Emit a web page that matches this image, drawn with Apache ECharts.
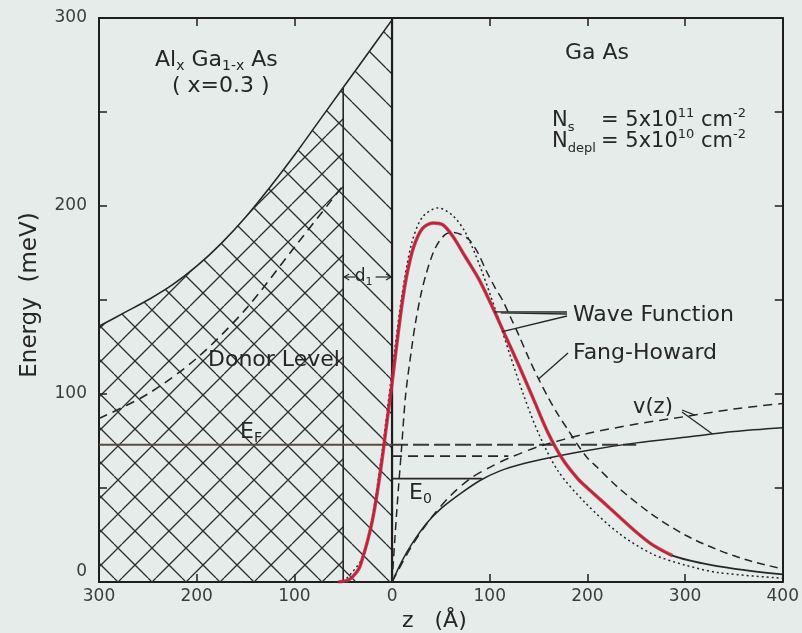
<!DOCTYPE html>
<html><head><meta charset="utf-8">
<script src="https://cdn.jsdelivr.net/npm/echarts@6/dist/echarts.min.js"></script>
<style>html,body{margin:0;padding:0;background:#e6ecea;overflow:hidden;}#c{width:802px;height:633px;}</style>
</head><body><div id="c"></div>
<script>
// ---------- data ----------
const zCB  = [-300,-275,-250,-225,-200,-175,-150,-125,-100,-75,-50,-25,0];
const eCB  = [136,143,150,158,168,180,194,210,227,245,263,281,299];
const zDonor = [-300,-250,-200,-150,-100,-50];
const eDonor = [87,100,119,145,178,211];
const spacerZ = -50, interfaceZ = 0, barrierTop = 300;
const eFermi = 73, zFermiStart = -300, zFermiEnd = 250;
const eE0 = 55, zE0End = 92;
const eE0FH = 67, zE0FHEnd = 119;
const zV   = [0,10,20,35,50,70,90,110,135,160,200,250,300,350,400];
const eV   = [0,11,20,31,39,47,54,59,63,66,70,74,77,80,82];
const zVFH = [0,20,40,60,80,100,120,150,200,250,300,350,400];
const eVFH = [0,19,34,46,55,61,66,72,79,84,88,92,95];
const zWave = [-55,-45,-40,-34,-30,-25,-20,-15,-10,-5,0,5,10,15,22,31,42,52,62,75,89,103,116,130,145,160,175,190,200,215,232,249,266,287,317,351,400];
const eWave = [0,1,3,7,13,22,33,48,66,86,106,127,147,163,178,188,191,190,184,173,161,146,131,115,97,79,65,55,50,43,35,27,20,14,10,7,4];
const zRedEnd = 287;
const zDot = [-50,-30,-20,-10,0,10,20,31,47,62,75,90,105,120,135,150,170,198,232,266,300,334,400];
const eDot = [0,13,35,70,112,152,180,194,199,195,186,168,146,122,99,79,59,42,26,15,9,5,2];
const zFH = [0,5,10,14,20,24,30,35,42,48,55,62,70,79,88,96,105,113,122,130,140,150,160,170,180,190,200,210,232,266,300,334,368,400];
const eFH = [0,39,73,100,124,138,154,164,175,181,185,186,185,182,175,166,157,150,140,131,119,108,98,89,81,73,66,61,50,36,25,17,11,7];

// ---------- helpers ----------
const FONT = '"DejaVu Sans", sans-serif';
const INK = '#262626';
function pairs(zs, es){ return zs.map((z,i)=>[z, es[i]]); }
function interp(zs, es, z){
  for (let i=1;i<zs.length;i++){ if (z<=zs[i]){ const t=(z-zs[i-1])/(zs[i]-zs[i-1]); return es[i-1]+t*(es[i]-es[i-1]); } }
  return es[es.length-1];
}
function makeHatch(cross){
  const s=34, c=document.createElement('canvas'); c.width=s; c.height=s;
  const g=c.getContext('2d'); g.strokeStyle='#2e2e2e'; g.lineWidth=1.3;
  g.beginPath();
  for (let k=-2;k<=2;k++){
    g.moveTo(12+k*s,0); g.lineTo(12+k*s+s,s);
    if (cross){ g.moveTo(20+k*s,0); g.lineTo(20+k*s-s,s); }
  }
  g.stroke(); return c;
}
const cbAll = pairs(zCB,eCB);
const cbLeft = cbAll.filter(p=>p[0]<=spacerZ);
const cbRight = cbAll.filter(p=>p[0]>=spacerZ);
const eSpacer = interp(zCB,eCB,spacerZ);

function ln(data, color, width, type, extra){
  return Object.assign({type:'line', data, symbol:'none', smooth:0.3, silent:true,
    lineStyle:{color, width, type: type||'solid'}, z:3}, extra||{});
}

const chart = echarts.init(document.getElementById('c'), null, {renderer:'canvas'});
const axLine = {show:true, onZero:false, lineStyle:{color:'#1e1e1e', width:2}};
const axTick = {show:true, inside:true, length:8, lineStyle:{color:'#1e1e1e', width:1.5}};
const lblStyle = {fontSize:17, color:'#3c3c3c', fontFamily:FONT};

chart.setOption({
  animation:false,
  backgroundColor:'#e6ecea',
  grid:{left:99, right:12, top:18, bottom:51},
  xAxis:[
    {type:'value', min:-300, max:400, interval:100, position:'bottom', axisLine:axLine, axisTick:axTick, splitLine:{show:false},
     axisLabel:Object.assign({margin:6, formatter:v=>String(Math.abs(v))}, lblStyle)},
    {type:'value', min:-300, max:400, interval:100, position:'top', axisLine:axLine, axisTick:axTick, splitLine:{show:false}, axisLabel:{show:false}}
  ],
  yAxis:[
    {type:'value', min:0, max:300, interval:100, position:'left', axisLine:axLine, axisTick:axTick,
     minorTick:{show:true, splitNumber:2, length:8, lineStyle:{color:'#1e1e1e', width:1.5}},
     splitLine:{show:false}, minorSplitLine:{show:false},
     axisLabel:Object.assign({margin:12, formatter:v=> v===0 ? '{z|0}' : String(v), rich:{z:{fontSize:17, color:'#3c3c3c', fontFamily:FONT, padding:[0,0,20,0]}}}, lblStyle)},
    {type:'value', min:0, max:300, interval:100, position:'right', axisLine:axLine, axisTick:axTick,
     minorTick:{show:true, splitNumber:2, length:8, lineStyle:{color:'#1e1e1e', width:1.5}},
     splitLine:{show:false}, axisLabel:{show:false}}
  ],
  series:[
    ln(cbLeft, INK, 1.6, 'solid', {smooth:0.4, areaStyle:{color:{image:makeHatch(true), repeat:'repeat'}, opacity:1}, z:1}),
    ln(cbRight, INK, 1.6, 'solid', {smooth:0.4, areaStyle:{color:{image:makeHatch(false), repeat:'repeat'}, opacity:1}, z:1}),
    ln([[spacerZ,0],[spacerZ,eSpacer]], INK, 1.6, 'solid', {smooth:false}),
    ln([[interfaceZ,0],[interfaceZ,barrierTop]], '#1e1e1e', 2.2, 'solid', {smooth:false}),
    ln(pairs(zDonor,eDonor), INK, 1.6, [9,6]),
    ln([[zFermiStart,eFermi],[interfaceZ,eFermi]], '#5b4b3c', 2, 'solid', {smooth:false}),
    ln([[interfaceZ,eFermi],[zFermiEnd,eFermi]], '#3a3a3a', 2, [16,5], {smooth:false}),
    ln([[interfaceZ,eE0],[zE0End,eE0]], INK, 1.6, 'solid', {smooth:false}),
    ln([[interfaceZ,eE0FH],[zE0FHEnd,eE0FH]], INK, 1.8, [10,6], {smooth:false}),
    ln(pairs(zV,eV), INK, 1.5),
    ln(pairs(zVFH,eVFH), INK, 1.5, [9,6]),
    ln(pairs(zFH,eFH), INK, 1.5, [8,5]),
    ln(pairs(zDot,eDot), INK, 1.5, [2,3]),
    ln(pairs(zWave,eWave), INK, 1.8),
    ln(pairs(zWave,eWave).filter(p=>p[0]<=zRedEnd), 'rgba(206,36,62,0.85)', 3.5, 'solid', {z:4})
  ]
});

// ---------- annotations ----------
function px(z,e){ return chart.convertToPixel({gridIndex:0}, [z,e]); }
function rich(size){
  return {
    sub:{fontSize:Math.round(size*0.62), fontFamily:FONT, fill:INK, padding:[Math.round(size*0.6),0,0,0]},
    sup:{fontSize:Math.round(size*0.6), fontFamily:FONT, fill:INK, padding:[0,0,Math.round(size*0.7),0]}
  };
}
function txt(x,y,text,size,extra){
  return Object.assign({type:'text', x, y, silent:true, z:10,
    style:{text, fontSize:size, fontFamily:FONT, fill:INK, align:'left', verticalAlign:'middle', rich:rich(size)}}, extra||{});
}
function seg(p,q,w){ return {type:'line', silent:true, z:10, shape:{x1:p[0],y1:p[1],x2:q[0],y2:q[1]}, style:{stroke:INK, lineWidth:w||1.3}}; }

const g = [];
g.push(txt(155,60,'Al{sub|x} Ga{sub|1-x} As',22));
g.push(txt(172,86,'( x=0.3 )',22));
g.push(txt(565,53,'Ga As',22));
g.push(txt(552,121,'N{sub|s}',21));
g.push(txt(552,142,'N{sub|depl}',21));
g.push(txt(601,121,'= 5x10{sup|11} cm{sup|-2}',21));
g.push(txt(601,142,'= 5x10{sup|10} cm{sup|-2}',21));
g.push(txt(208,360,'Donor Level',22));
g.push(txt(240,432,'E{sub|F}',22));
g.push(txt(409,493,'E{sub|0}',22));
g.push(txt(573,315,'Wave Function',22));
g.push(txt(573,353,'Fang-Howard',22));
g.push(txt(633,408,'v(z)',21));
g.push(txt(402,621,'z   (Å)',22));
g.push({type:'text', x:30, y:295, rotation:Math.PI/2, silent:true, z:10,
  style:{text:'Energy  (meV)', fontSize:23, fontFamily:FONT, fill:INK, align:'center', verticalAlign:'middle'}});

// d1 marker between spacer edge and interface
const pL = px(spacerZ, 0), pR = px(interfaceZ, 0), yd = 277, xm = (pL[0]+pR[0])/2;
g.push(txt(xm-4,yd,'d{sub|1}',17,{style:{text:'d{sub|1}', fontSize:17, fontFamily:FONT, fill:INK, align:'center', verticalAlign:'middle', rich:rich(17)}}));
g.push(seg([pL[0]+1,yd],[xm-12,yd],1.2));
g.push(seg([xm+8,yd],[pR[0]-1,yd],1.2));
g.push(seg([pR[0]-1,yd],[pR[0]-6,yd-3],1.2));
g.push(seg([pR[0]-1,yd],[pR[0]-6,yd+3],1.2));
g.push(seg([pL[0]+1,yd],[pL[0]+6,yd-3],1.2));
g.push(seg([pL[0]+1,yd],[pL[0]+6,yd+3],1.2));

// pointers
const wfA = px(105, interp(zWave,eWave,105));
const wfB = px(113, interp(zDot,eDot,113));
g.push(seg([567,312],wfA,1.3));
g.push(seg([567,316],wfB,1.3));
g.push(seg([567,314],[wfA[0]+6,wfA[1]+1],1.3));
const fhA = px(150, interp(zFH,eFH,150));
g.push(seg([568,353],fhA,1.3));
const vA = px(310, interp(zVFH,eVFH,310));
const vB = px(328, interp(zV,eV,328));
g.push(seg([682,410],vA,1.3));
g.push(seg([682,412],vB,1.3));

chart.setOption({graphic:g});
</script></body></html>
